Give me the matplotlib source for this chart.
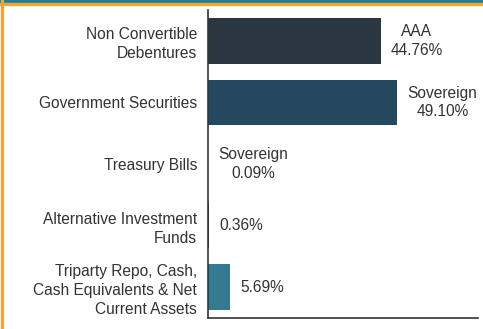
import matplotlib.pyplot as plt
import numpy as np

plt.rcParams["font.family"] = ["Liberation Sans", "DejaVu Sans"]

categories = [
    "Non Convertible\nDebentures",
    "Government Securities",
    "Treasury Bills",
    "Alternative Investment\nFunds",
    "Triparty Repo, Cash,\nCash Equivalents & Net\nCurrent Assets",
]
values = [44.76, 49.10, 0.09, 0.36, 5.69]
ratings = ["AAA", "Sovereign", "Sovereign", "", ""]
colors = ["#2a3640", "#24485f", "#24485f", "#24485f", "#367a92"]

TEXT = "#333333"
FS = 11.2

fig = plt.figure(figsize=(4.83, 3.29), dpi=100)
ax = fig.add_axes([208 / 483, 11 / 329, 270 / 483, 308 / 329])

y = np.arange(len(categories))
ax.barh(y, values, height=0.74, color=colors)
ax.set_ylim(len(categories) - 0.5, -0.5)
ax.set_xlim(0, 70)

for yi, v, r in zip(y, values, ratings):
    label = f"{r}\n{v:.2f}%" if r else f"{v:.2f}%"
    ax.annotate(label, xy=(v, yi), xytext=(7.2, 0), textcoords="offset points",
                ha="left", va="center", multialignment="center",
                fontsize=FS, color=TEXT, linespacing=1.3)

ax.set_yticks(y)
ax.set_yticklabels(categories, fontsize=FS, color=TEXT, linespacing=1.3)
ax.tick_params(axis="y", length=0, pad=8)
ax.set_xticks([])
for s in ["top", "right"]:
    ax.spines[s].set_visible(False)
for s in ["left", "bottom"]:
    ax.spines[s].set_color("#333333")
    ax.spines[s].set_linewidth(1.2)

# card border: teal band and orange line on top, orange line on the left
fig.patches.append(plt.Rectangle((0, 1 - 3 / 329), 1, 3 / 329, transform=fig.transFigure,
                                 color="#2a7a90", zorder=5))
fig.patches.append(plt.Rectangle((0, 1 - 5 / 329), 1, 2 / 329, transform=fig.transFigure,
                                 color="#f5a623", zorder=5))
fig.patches.append(plt.Rectangle((1 / 483, 0), 2 / 483, 1, transform=fig.transFigure,
                                 color="#f5a623", zorder=5))

fig.savefig("out.png", dpi=100)
